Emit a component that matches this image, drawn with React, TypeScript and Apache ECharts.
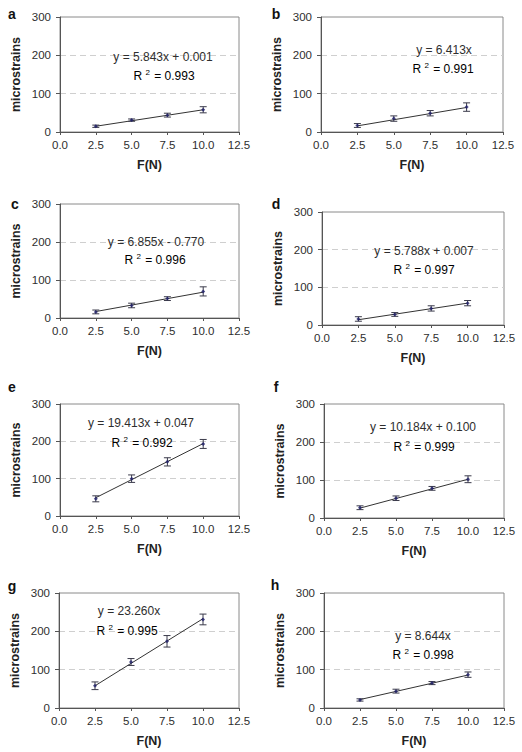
import React, { useEffect, useRef } from 'react';
import * as echarts from 'echarts';

// ---------- data ----------
const forceN = [2.5, 5.0, 7.5, 10.0];
const xTickLabels = ['0.0', '2.5', '5.0', '7.5', '10.0', '12.5'];
const yTickLabels = ['0', '100', '200', '300'];
const panelLetters = ['a', 'b', 'c', 'd', 'e', 'f', 'g', 'h'];

const meanA = [15, 31, 44, 58];
const errA = [3, 3, 5, 8];
const meanB = [17, 35, 49, 65];
const errB = [5, 7, 7, 11];
const meanC = [16, 33, 51, 70];
const errC = [5, 6, 5, 12];
const meanD = [16, 28, 44, 58];
const errD = [6, 5, 7, 7];
const meanE = [46, 100, 145, 193];
const errE = [8, 10, 11, 12];
const meanF = [27, 52, 78, 102];
const errF = [5, 6, 5, 9];
const meanG = [58, 120, 174, 231];
const errG = [10, 9, 15, 14];
const meanH = [21, 44, 65, 87];
const errH = [3, 5, 4, 7];

// trend line end values (at F = 2.5 and F = 10.0)
const trendA = [15, 58];
const trendB = [16, 64];
const trendC = [17, 68];
const trendD = [14, 58];
const trendE = [49, 194];
const trendF = [26, 102];
const trendG = [58, 233];
const trendH = [22, 86];

const equations = [
  'y = 5.843x + 0.001',
  'y = 6.413x',
  'y = 6.855x - 0.770',
  'y = 5.788x + 0.007',
  'y = 19.413x + 0.047',
  'y = 10.184x + 0.100',
  'y = 23.260x',
  'y = 8.644x',
];
const r2Values = ['0.993', '0.991', '0.996', '0.997', '0.992', '0.999', '0.995', '0.998'];

const means = [meanA, meanB, meanC, meanD, meanE, meanF, meanG, meanH];
const errs = [errA, errB, errC, errD, errE, errF, errG, errH];
const trends = [trendA, trendB, trendC, trendD, trendE, trendF, trendG, trendH];

// ---------- layout ----------
const layout = [
  { left: 60, top: 17, width: 179, height: 115, letter: [12, 14], eq: [163, 57], r2: [164, 76] },
  { left: 321, top: 17, width: 182, height: 115, letter: [276, 14], eq: [444, 50], r2: [443, 69] },
  { left: 60, top: 204, width: 179, height: 114, letter: [15, 204], eq: [156, 242], r2: [155, 260] },
  { left: 322, top: 212, width: 182, height: 113, letter: [276, 204], eq: [424, 251], r2: [424, 270] },
  { left: 60, top: 404, width: 179, height: 112, letter: [12, 387], eq: [141, 423], r2: [142, 443] },
  { left: 324, top: 404, width: 180, height: 114, letter: [276, 387], eq: [423, 427], r2: [424, 447] },
  { left: 59, top: 593, width: 180, height: 115, letter: [12, 586], eq: [129, 611], r2: [127, 631] },
  { left: 324, top: 593, width: 180, height: 115, letter: [275, 585], eq: [423, 636], r2: [423, 655] },
];

const FONT = '"Liberation Sans", Arial, sans-serif';
const BOX = '#8a8a8a';
const AXIS = '#555555';
const TXT = '#2e2e2e';

export default function App() {
  const ref = useRef<HTMLDivElement>(null);

  useEffect(() => {
    document.body.style.margin = '0';
    if (!ref.current) return;
    const chart = echarts.init(ref.current, null, { renderer: 'svg' });

    const grid: any[] = [];
    const xAxis: any[] = [];
    const yAxis: any[] = [];
    const series: any[] = [];
    const graphic: any[] = [];

    layout.forEach((L, i) => {
      grid.push({
        left: L.left,
        top: L.top,
        width: L.width,
        height: L.height,
        show: true,
        borderColor: BOX,
        borderWidth: 1,
        backgroundColor: '#ffffff',
      });
      xAxis.push({
        type: 'value',
        gridIndex: i,
        min: 0,
        max: 12.5,
        interval: 2.5,
        name: 'F(N)',
        nameLocation: 'middle',
        nameGap: 26,
        nameTextStyle: { fontFamily: FONT, fontSize: 12.5, fontWeight: 'bold', color: '#222' },
        axisLine: { show: true, lineStyle: { color: AXIS, width: 1 } },
        axisTick: { show: true, length: 3, lineStyle: { color: AXIS } },
        splitLine: { show: false },
        axisLabel: {
          fontFamily: FONT,
          fontSize: 11.5,
          color: TXT,
          margin: 7,
          formatter: (v: number) => xTickLabels[Math.round(v / 2.5)] ?? '',
        },
      });
      yAxis.push({
        type: 'value',
        gridIndex: i,
        min: 0,
        max: 300,
        interval: 100,
        name: 'microstrains',
        nameLocation: 'middle',
        nameGap: 38,
        nameTextStyle: { fontFamily: FONT, fontSize: 12.5, fontWeight: 'bold', color: '#222' },
        axisLine: { show: true, lineStyle: { color: AXIS, width: 1 } },
        axisTick: { show: true, length: 4, lineStyle: { color: AXIS } },
        splitLine: {
          show: true,
          showMinLine: false,
          showMaxLine: false,
          lineStyle: { color: '#cfcfcf', type: [6, 4], width: 1 },
        },
        axisLabel: {
          fontFamily: FONT,
          fontSize: 11.5,
          color: TXT,
          margin: 9,
          formatter: (v: number) => yTickLabels[Math.round(v / 100)] ?? '',
        },
      });

      // trend line
      series.push({
        type: 'line',
        xAxisIndex: i,
        yAxisIndex: i,
        data: [
          [forceN[0], trends[i][0]],
          [forceN[forceN.length - 1], trends[i][1]],
        ],
        symbol: 'none',
        lineStyle: { color: '#333333', width: 1 },
        silent: true,
        z: 3,
      });

      // error bars
      series.push({
        type: 'custom',
        xAxisIndex: i,
        yAxisIndex: i,
        data: forceN.map((x, k) => [x, means[i][k], errs[i][k]]),
        encode: { x: 0, y: 1 },
        renderItem: (params: any, api: any) => {
          const x = api.value(0);
          const y = api.value(1);
          const e = api.value(2);
          const top = api.coord([x, y + e]);
          const bot = api.coord([x, y - e]);
          const hw = 3.5;
          const st = { stroke: '#3a3a4a', lineWidth: 1 };
          return {
            type: 'group',
            children: [
              { type: 'line', shape: { x1: top[0], y1: top[1], x2: bot[0], y2: bot[1] }, style: st },
              { type: 'line', shape: { x1: top[0] - hw, y1: top[1], x2: top[0] + hw, y2: top[1] }, style: st },
              { type: 'line', shape: { x1: bot[0] - hw, y1: bot[1], x2: bot[0] + hw, y2: bot[1] }, style: st },
            ],
          };
        },
        z: 4,
      });

      // mean points
      series.push({
        type: 'scatter',
        xAxisIndex: i,
        yAxisIndex: i,
        data: forceN.map((x, k) => [x, means[i][k]]),
        symbol: 'diamond',
        symbolSize: 4,
        itemStyle: { color: '#1f1f6b' },
        z: 5,
      });

      graphic.push({
        type: 'text',
        x: L.letter[0],
        y: L.letter[1],
        style: {
          text: panelLetters[i],
          font: `bold 14px ${FONT}`,
          fill: '#111',
          textAlign: 'center',
          textVerticalAlign: 'middle',
        },
      });
      graphic.push({
        type: 'text',
        x: L.eq[0],
        y: L.eq[1],
        z: 10,
        style: {
          text: equations[i],
          font: `12px ${FONT}`,
          fill: TXT,
          textAlign: 'center',
          textVerticalAlign: 'middle',
        },
      });
      graphic.push({
        type: 'text',
        x: L.r2[0],
        y: L.r2[1],
        z: 10,
        style: {
          text: `{r|R }{s|2}{r| = ${r2Values[i]}}`,
          textAlign: 'center',
          textVerticalAlign: 'middle',
          rich: {
            r: { fontFamily: FONT, fontSize: 12, color: TXT },
            s: { fontFamily: FONT, fontSize: 8, color: TXT, padding: [0, 1, 7, 0] },
          },
        },
      });
    });

    chart.setOption({
      animation: false,
      backgroundColor: '#ffffff',
      grid,
      xAxis,
      yAxis,
      series,
      graphic,
    });

    return () => chart.dispose();
  }, []);

  return <div ref={ref} style={{ width: 522, height: 752 }} />;
}
